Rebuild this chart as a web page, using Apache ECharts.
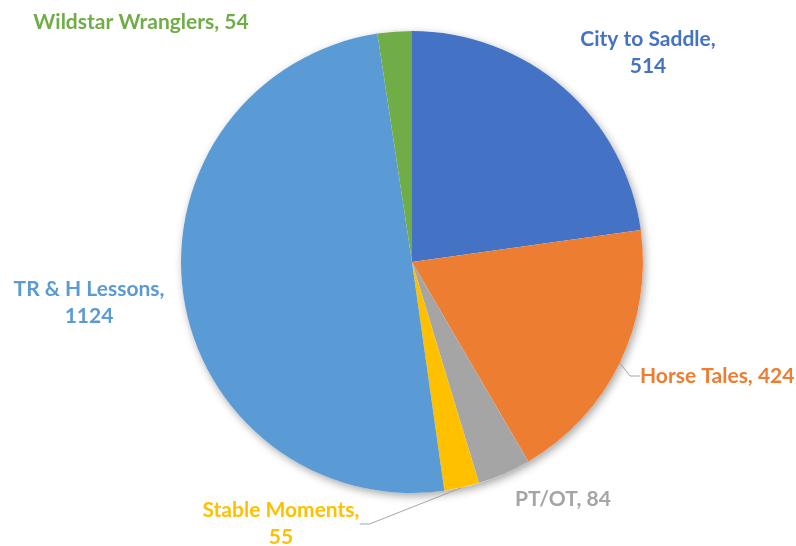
<!DOCTYPE html>
<html>
<head>
<meta charset="utf-8">
<script src="https://cdn.jsdelivr.net/npm/echarts@6/dist/echarts.min.js"></script>
<style>html,body{margin:0;padding:0;background:#fff}#c{width:796px;height:546px}</style>
</head>
<body>
<div id="c"></div>
<script>
const categories = ['City to Saddle', 'Horse Tales', 'PT/OT', 'Stable Moments', 'TR & H Lessons', 'Wildstar Wranglers'];
const values = [514, 424, 84, 55, 1124, 54];
const colors = ['#4472C4', '#ED7D31', '#A5A5A5', '#FFC000', '#5B9BD5', '#70AD47'];
const wrapped = ['City to Saddle', 'Stable Moments', 'TR & H Lessons'];
const withLine = ['Horse Tales', 'Stable Moments'];

const labelPos = {
  'City to Saddle': {x: 648, y: 53, align: 'center'},
  'Horse Tales': {x: 640, y: 376, align: 'left'},
  'PT/OT': {x: 563, y: 499, align: 'center'},
  'Stable Moments': {x: 281, y: 524, align: 'center'},
  'TR & H Lessons': {x: 89, y: 303, align: 'center'},
  'Wildstar Wranglers': {x: 141, y: 22, align: 'center'}
};

const chart = echarts.init(document.getElementById('c'));
const total = values.reduce((a, b) => a + b, 0);
chart.setOption({
  animation: false,
  series: [
    {
      type: 'pie',
      silent: true,
      center: [412, 262],
      radius: 231,
      z: 1,
      label: {show: false},
      labelLine: {show: false},
      itemStyle: {color: '#ffffff', shadowBlur: 8, shadowColor: 'rgba(0,0,0,0.35)', shadowOffsetX: 2, shadowOffsetY: 3},
      data: [{value: total, name: ''}]
    },
    {
      type: 'pie',
      center: [412, 262],
      radius: 231,
      startAngle: 90,
      clockwise: true,
      z: 2,
      data: categories.map((n, i) => ({
        name: n,
        value: values[i],
        itemStyle: {color: colors[i]},
        label: {color: colors[i]},
        labelLine: {show: withLine.includes(n)}
      })),
      label: {
        show: true,
        position: 'outside',
        overflow: 'none',
        fontFamily: 'Lato',
        fontWeight: 'bold',
        fontSize: 21,
        lineHeight: 27,
        formatter: p => wrapped.includes(p.name) ? p.name + ',\n' + p.value : p.name + ', ' + p.value
      },
      labelLine: {
        length: 10, length2: 10,
        lineStyle: {color: '#A5A5A5', width: 1}
      },
      labelLayout: function (params) {
        const name = categories[params.dataIndex];
        const p = labelPos[name];
        return {x: p.x, y: p.y, align: p.align, verticalAlign: 'middle'};
      }
    }
  ]
});
</script>
</body>
</html>
